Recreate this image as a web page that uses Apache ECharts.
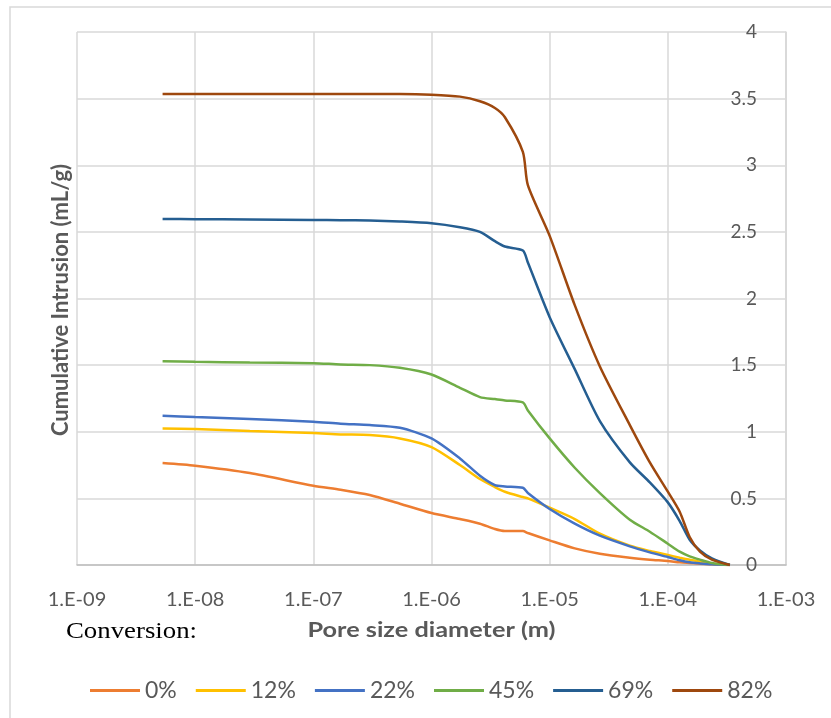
<!DOCTYPE html>
<html>
<head>
<meta charset="utf-8">
<script src="https://cdn.jsdelivr.net/npm/echarts@6/dist/echarts.min.js"></script>
<style>
html,body{margin:0;padding:0;background:#fff;}
#chart{width:831px;height:718px;}
</style>
</head>
<body>
<div id="chart"></div>
<script>
// Pore size diameter (m), shared by all series
const diameters = [5.3e-9, 1.0e-8, 2.9e-8, 1.0e-7, 1.7e-7, 3.0e-7, 5.4e-7, 1.0e-6, 1.74e-6, 2.57e-6, 3.44e-6, 4.18e-6, 5.93e-6, 6.54e-6, 1.0e-5, 1.63e-5, 2.66e-5, 4.77e-5, 7.04e-5, 1.0e-4, 1.26e-4, 1.53e-4, 1.87e-4, 2.36e-4, 3.35e-4];

// Cumulative intrusion (mL/g) per conversion level
const conv0  = [0.765,0.745,0.69,0.595,0.565,0.525,0.46,0.39,0.345,0.31,0.27,0.255,0.255,0.24,0.185,0.125,0.085,0.055,0.04,0.03,0.02,0.015,0.01,0.005,0];
const conv12 = [1.025,1.02,1.005,0.99,0.98,0.975,0.95,0.885,0.75,0.645,0.585,0.55,0.51,0.50,0.43,0.345,0.235,0.145,0.105,0.075,0.055,0.04,0.025,0.01,0];
const conv22 = [1.12,1.11,1.095,1.075,1.06,1.05,1.03,0.95,0.80,0.67,0.60,0.59,0.58,0.54,0.42,0.31,0.22,0.14,0.095,0.06,0.035,0.02,0.012,0.005,0];
const conv45 = [1.53,1.525,1.52,1.515,1.505,1.50,1.48,1.43,1.33,1.26,1.245,1.235,1.22,1.16,0.95,0.73,0.54,0.34,0.25,0.16,0.10,0.065,0.04,0.015,0];
const conv69 = [2.597,2.595,2.593,2.59,2.588,2.585,2.578,2.565,2.535,2.50,2.43,2.39,2.36,2.27,1.86,1.47,1.08,0.77,0.62,0.47,0.33,0.19,0.11,0.05,0];
const conv82 = [3.535,3.535,3.535,3.535,3.535,3.535,3.535,3.53,3.515,3.48,3.43,3.36,3.10,2.85,2.47,1.95,1.49,1.05,0.77,0.55,0.40,0.21,0.10,0.04,0];

const seriesNames = ['0%','12%','22%','45%','69%','82%'];
const seriesValues = [conv0, conv12, conv22, conv45, conv69, conv82];
const seriesColors = ['#ED7D31','#FFC000','#4472C4','#70AD47','#255E91','#9E480E'];

const font = 'Lato, "Open Sans", sans-serif';
const serif = '"Liberation Serif", "DejaVu Serif", serif';
const textColor = '#595959';

// horizontal stretch factor so that the text spans the target width
function stretch(text, cssFont, target) {
  const ctx = document.createElement('canvas').getContext('2d');
  ctx.font = cssFont;
  const w = ctx.measureText(text).width;
  return w > 0 ? target / w : 1;
}
const xTitle = 'Pore size diameter (m)';
const xTitleScale = stretch(xTitle, 'bold 20px Lato', 248);
const convText = 'Conversion:';
const convScale = stretch(convText, '24px "Liberation Serif"', 131);

const chart = echarts.init(document.getElementById('chart'), null, {renderer:'canvas'});

chart.setOption({
  animation: false,
  backgroundColor: '#fff',
  grid: {left: 77, right: 45, top: 32, bottom: 153, containLabel: false},
  xAxis: {
    type: 'log', logBase: 10, min: 1e-9, max: 1e-3,
    axisLine: {show: true, lineStyle: {color: '#bfbfbf', width: 1.5}},
    axisTick: {show: false},
    splitLine: {show: true, lineStyle: {color: '#d9d9d9', width: 1.5}},
    axisLabel: {
      fontFamily: font, fontSize: 20, color: textColor, margin: 25,
      formatter: function (v) {
        const e = Math.round(Math.log10(v));
        const s = Math.abs(e) < 10 ? '0' + Math.abs(e) : '' + Math.abs(e);
        return '1.E' + (e < 0 ? '-' : '+') + s;
      }
    }
  },
  yAxis: {
    type: 'value', position: 'right', min: 0, max: 4, interval: 0.5,
    axisLine: {show: true, lineStyle: {color: '#d9d9d9', width: 1.5}},
    axisTick: {show: false},
    splitLine: {show: true, lineStyle: {color: '#d9d9d9', width: 1.5}},
    axisLabel: {fontFamily: font, fontSize: 19, color: textColor, margin: -29, align: 'right'}
  },
  legend: {
    top: 674, left: 85,
    icon: 'rect', itemWidth: 50, itemHeight: 3, itemGap: 19,
    textStyle: {fontFamily: font, fontSize: 23, color: textColor},
    data: seriesNames
  },
  graphic: [
    {type: 'rect', shape: {x: 10, y: 7, width: 900, height: 800},
     style: {fill: 'none', stroke: '#d9d9d9', lineWidth: 1.5}, silent: true, z: -1},
    {type: 'text', x: 61, y: 300, rotation: Math.PI / 2,
     style: {text: 'Cumulative Intrusion (mL/g)', fontFamily: font, fontSize: 22, fontWeight: 'bold',
             fill: textColor, textAlign: 'center', textVerticalAlign: 'middle'}},
    {type: 'text', x: 431.5, y: 631, scaleX: xTitleScale,
     style: {text: xTitle, fontFamily: 'Lato', fontSize: 20, fontWeight: 'bold',
             fill: textColor, textAlign: 'center', textVerticalAlign: 'middle'}},
    {type: 'text', x: 66, y: 632, scaleX: convScale,
     style: {text: convText, fontFamily: serif, fontSize: 24,
             fill: '#000', textAlign: 'left', textVerticalAlign: 'middle'}}
  ],
  series: seriesNames.map(function (name, i) {
    return {
      name: name, type: 'line', showSymbol: false, smooth: 0.25,
      lineStyle: {color: seriesColors[i], width: 2.5},
      itemStyle: {color: seriesColors[i]},
      data: diameters.map(function (d, j) { return [d, seriesValues[i][j]]; })
    };
  })
});
</script>
</body>
</html>
